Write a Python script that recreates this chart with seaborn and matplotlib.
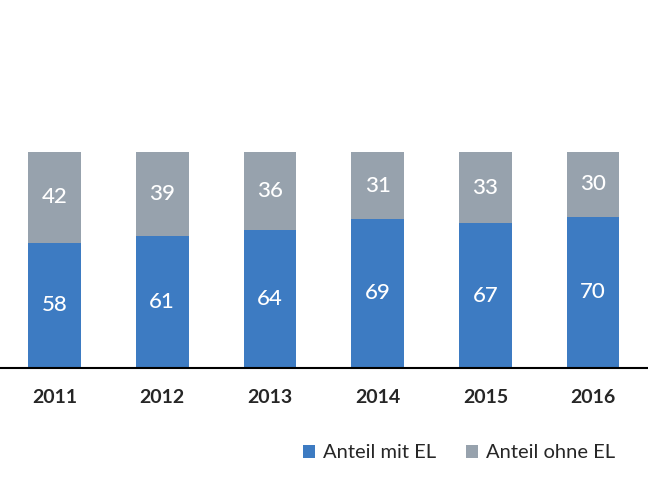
import pandas as pd
import matplotlib.pyplot as plt
import seaborn as sns

years = ['2011', '2012', '2013', '2014', '2015', '2016']
mit_el = [58, 61, 64, 69, 67, 70]
ohne_el = [42, 39, 36, 31, 33, 30]

blue = '#3d7bc2'
grey = '#97a2ad'

sns.set_style('white')
plt.rcParams['font.family'] = ['Lato', 'DejaVu Sans']

df = pd.DataFrame({'year': years, 'mit': mit_el, 'ohne': ohne_el})
df['total'] = df['mit'] + df['ohne']

fig = plt.figure(figsize=(6.48, 4.87), dpi=100)
ax = fig.add_axes([0, 0.2444, 1, 0.7556])

# grey total first, blue share drawn over it
sns.barplot(data=df, x='year', y='total', color=grey, width=0.49,
            saturation=1, ax=ax, label='Anteil ohne EL', linewidth=0)
sns.barplot(data=df, x='year', y='mit', color=blue, width=0.49,
            saturation=1, ax=ax, label='Anteil mit EL', linewidth=0)
if ax.get_legend() is not None:
    ax.get_legend().remove()

for i, row in df.iterrows():
    ax.text(i, row['mit'] / 2, str(row['mit']), ha='center', va='center',
            color='white', fontsize=16, fontweight='medium')
    ax.text(i, row['mit'] + row['ohne'] / 2, str(row['ohne']), ha='center',
            va='center', color='white', fontsize=16, fontweight='medium')

ax.set_xlim(-0.506, 5.51)
ax.set_ylim(0, 170.4)
ax.set_xlabel('')
ax.set_ylabel('')
ax.set_yticks([])
for s in ['top', 'right', 'left']:
    ax.spines[s].set_visible(False)
ax.spines['bottom'].set_color('black')
ax.spines['bottom'].set_linewidth(1.5)
ax.tick_params(axis='x', length=0, pad=15)
for lbl in ax.get_xticklabels():
    lbl.set_fontweight('bold')
    lbl.set_fontsize(14)

handles, labels = ax.get_legend_handles_labels()
order = [labels.index('Anteil mit EL'), labels.index('Anteil ohne EL')]
fig.legend([handles[k] for k in order], [labels[k] for k in order],
           loc='center right', bbox_to_anchor=(0.978, 0.07), ncol=2,
           frameon=False, fontsize=14.5, handlelength=0.6, handleheight=0.6,
           handletextpad=0.4, columnspacing=1.5)

fig.savefig('out.png', dpi=100)
